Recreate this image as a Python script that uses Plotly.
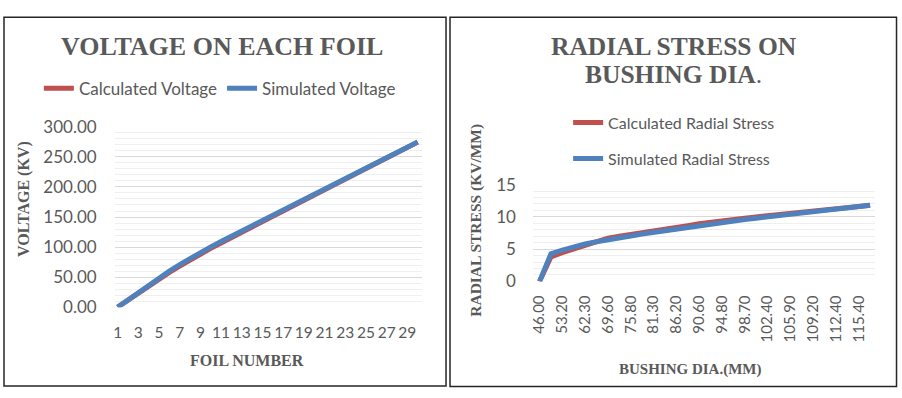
import plotly.graph_objects as go

# ---------------- data ----------------
foil_number = list(range(1, 31))
calc_voltage = [0, 12.0, 24.0, 35.8, 47.0, 58.0, 68.5, 78.8, 88.6, 97.8,
                106.9, 115.9, 124.8, 133.7, 142.5, 151.2, 159.8, 168.4, 177.2, 186.3,
                195.6, 204.9, 213.8, 222.4, 230.9, 239.5, 248.1, 256.7, 265.4, 274.6]
sim_voltage = [0, 12.3, 24.6, 36.9, 48.5, 60.0, 71.0, 81.5, 91.3, 100.4,
               109.3, 118.1, 127.0, 135.9, 144.7, 153.4, 161.9, 170.4, 179.2, 188.4,
               197.7, 206.9, 215.7, 224.1, 232.5, 241.0, 249.4, 257.8, 266.2, 274.6]

bushing_dia = ["46.00", "48.00", "53.20", "57.90", "62.30", "66.10", "69.60", "72.80",
               "75.80", "78.60", "81.30", "83.80", "86.20", "88.40", "90.60", "92.70",
               "94.80", "96.80", "98.70", "100.60", "102.40", "104.20", "105.90", "107.60",
               "109.20", "110.80", "112.40", "113.90", "115.40", "116.90"]
calc_stress = [0, 3.8, 4.45, 5.05, 5.6, 6.1, 6.7, 7.0, 7.25, 7.55,
               7.8, 8.05, 8.3, 8.65, 8.95, 9.2, 9.4, 9.6, 9.8, 10.0,
               10.2, 10.4, 10.6, 10.8, 10.95, 11.1, 11.25, 11.45, 11.62, 11.8]
sim_stress = [0, 4.3, 4.85, 5.35, 5.8, 6.15, 6.5, 6.8, 7.05, 7.35,
              7.6, 7.85, 8.1, 8.45, 8.75, 9.0, 9.2, 9.4, 9.6, 9.8,
              10.0, 10.2, 10.45, 10.65, 10.85, 11.05, 11.2, 11.4, 11.6, 11.8]

voltage_ticks = [0, 50, 100, 150, 200, 250, 300]
stress_ticks = [0, 5, 10, 15]

RED = "#c0504d"
BLUE = "#4f81bd"
TXT = "#595959"
SANS = "Lato"
SERIF = "Liberation Serif"

W, H = 902, 398
def px(x):
    return x / W
def py(y):
    return 1 - y / H

fig = go.Figure()

fig.add_trace(go.Scatter(x=foil_number, y=calc_voltage, mode="lines", name="Calculated Voltage",
                         line=dict(color=RED, width=5), xaxis="x", yaxis="y", legend="legend"))
fig.add_trace(go.Scatter(x=foil_number, y=sim_voltage, mode="lines", name="Simulated Voltage",
                         line=dict(color=BLUE, width=5), xaxis="x", yaxis="y", legend="legend"))

fig.add_trace(go.Scatter(x=bushing_dia, y=calc_stress, mode="lines", name="Calculated Radial Stress",
                         line=dict(color=RED, width=5), xaxis="x2", yaxis="y2", legend="legend2",
                         legendgroup="a"))
fig.add_trace(go.Scatter(x=bushing_dia, y=sim_stress, mode="lines", name="Simulated Radial Stress",
                         line=dict(color=BLUE, width=5), xaxis="x2", yaxis="y2", legend="legend2",
                         legendgroup="b"))

tickfont = dict(family=SANS, size=17, color=TXT)

fig.update_layout(
    width=W, height=H, autosize=False,
    margin=dict(l=0, r=0, t=0, b=0),
    paper_bgcolor="white", plot_bgcolor="white",
    xaxis=dict(domain=[px(112), px(420)], range=[0.71, 30.38], type="linear",
               tickmode="array", tickvals=foil_number[::2], ticktext=[str(v) for v in foil_number[::2]],
               tickangle=0,
               showgrid=False, zeroline=False, showline=False, ticks="",
               tickfont=dict(family=SANS, size=15.5, color=TXT), ticklabelstandoff=14, anchor="y"),
    yaxis=dict(domain=[py(312.7), py(122.3)], range=[0, 300],
               tickmode="array", tickvals=voltage_ticks, tickformat=".2f",
               showgrid=True, gridcolor="#d9d9d9", gridwidth=1,
               minor=dict(dtick=10, showgrid=True, gridcolor="#efefef", gridwidth=1),
               zeroline=False, showline=False, ticks="",
               tickfont=tickfont, ticklabelstandoff=17, anchor="x"),
    xaxis2=dict(domain=[px(531.7), px(875)], range=[-0.58, 29.44], type="category",
                tickmode="array", tickvals=bushing_dia[::2], ticktext=bushing_dia[::2],
                tickangle=-90, showgrid=False, zeroline=False, showline=False, ticks="",
                tickfont=dict(family=SANS, size=15, color=TXT), ticklabelstandoff=10, anchor="y2"),
    yaxis2=dict(domain=[py(285.5), py(183.3)], range=[0, 15],
                tickmode="array", tickvals=stress_ticks,
                showgrid=True, gridcolor="#d9d9d9", gridwidth=1,
                minor=dict(dtick=1, showgrid=True, gridcolor="#efefef", gridwidth=1),
                zeroline=False, showline=False, ticks="",
                tickfont=tickfont, ticklabelstandoff=16, anchor="x2"),
    legend=dict(orientation="h", x=px(36), y=py(82), xanchor="left", yanchor="middle",
                font=dict(family=SANS, size=17, color=TXT), bgcolor="rgba(0,0,0,0)",
                tracegroupgap=0),
    legend2=dict(orientation="v", x=px(567), y=py(100), xanchor="left", yanchor="top",
                 font=dict(family=SANS, size=16, color=TXT), bgcolor="rgba(0,0,0,0)",
                 tracegroupgap=12, traceorder="grouped"),
    showlegend=True,
)

annotations = [
    dict(text="<b>VOLTAGE ON EACH FOIL</b>", x=px(220), y=py(37),
         font=dict(family=SERIF, size=26, color=TXT)),
    dict(text="<b>RADIAL STRESS ON</b>", x=px(673), y=py(37),
         font=dict(family=SERIF, size=25.5, color=TXT)),
    dict(text="<b>BUSHING DIA</b>.", x=px(673), y=py(67),
         font=dict(family=SERIF, size=25.5, color=TXT)),
    dict(text="<b>VOLTAGE (KV)</b>", x=px(20.5), y=py(198), textangle=-90,
         font=dict(family=SERIF, size=16, color=TXT)),
    dict(text="<b>FOIL NUMBER</b>", x=px(245), y=py(369),
         font=dict(family=SERIF, size=16, color=TXT)),
    dict(text="<b>RADIAL STRESS (KV/MM)</b>", x=px(475), y=py(221), textangle=-90,
         font=dict(family=SERIF, size=15.5, color=TXT)),
    dict(text="<b>BUSHING DIA.(MM)</b>", x=px(690), y=py(378),
         font=dict(family=SERIF, size=15, color=TXT)),
]
for a in annotations:
    a.update(xref="paper", yref="paper", showarrow=False, xanchor="center", yanchor="middle")
fig.update_layout(annotations=annotations)

fig.update_layout(shapes=[
    dict(type="rect", xref="paper", yref="paper", x0=px(1), x1=px(444.5), y0=py(396), y1=py(6.5),
         line=dict(color="#262626", width=1.5)),
    dict(type="rect", xref="paper", yref="paper", x0=px(448.5), x1=px(896.5), y0=py(396.5), y1=py(6.5),
         line=dict(color="#262626", width=1.5)),
])

fig.write_html("out.html", config={"responsive": False},
               post_script="document.body.style.margin='0';document.body.style.overflow='hidden';")
